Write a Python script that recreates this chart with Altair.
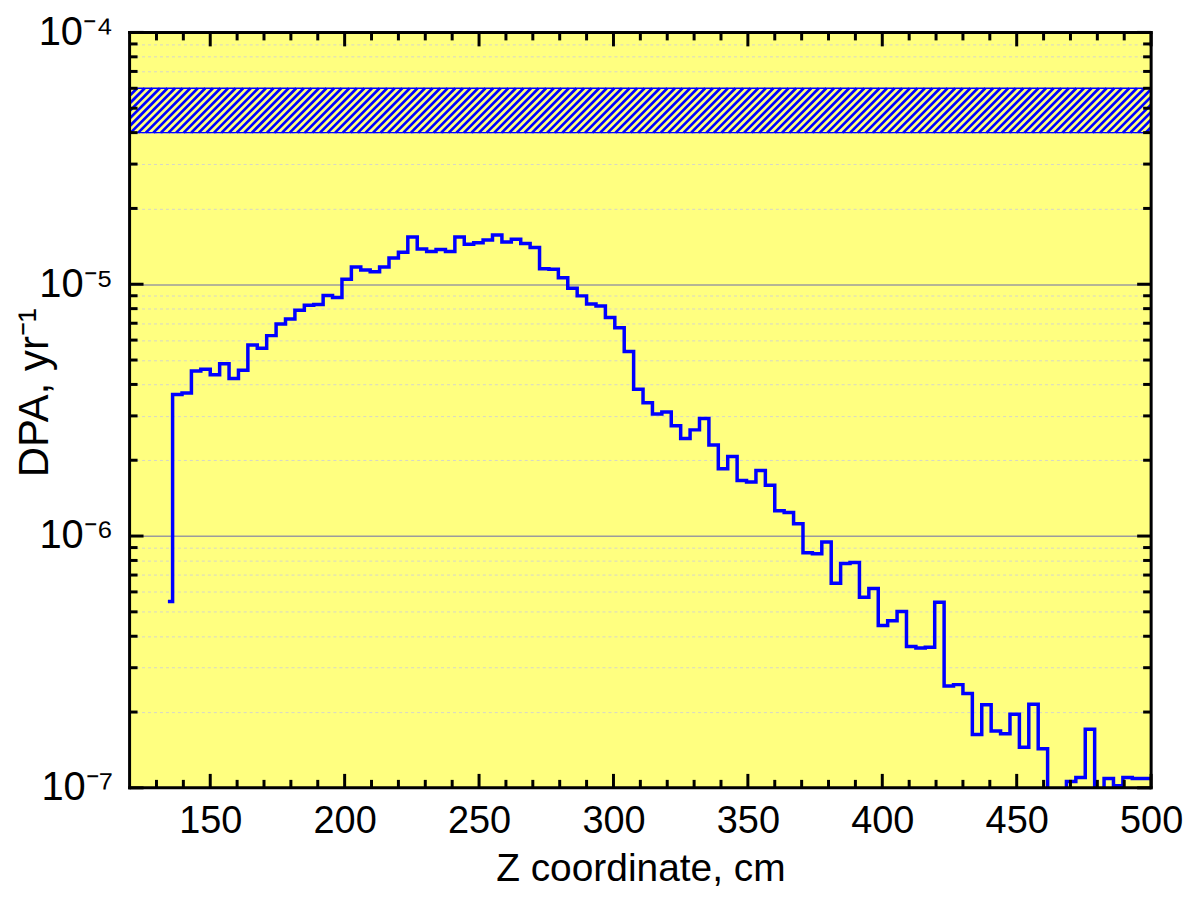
import altair as alt
import pandas as pd
import numpy as np

# ---------------- data ----------------
BIN_START = 134.25      # centre of first histogram bin, cm
BIN_WIDTH = 3.5         # cm
DPA = [
    5.5e-7, 3.65e-6, 3.7e-6, 4.52e-6, 4.6e-6, 4.37e-6, 4.83e-6, 4.22e-6, 4.55e-6, 5.74e-6,
    5.57e-6, 6.25e-6, 6.95e-6, 7.28e-6, 7.89e-6, 8.26e-6, 8.31e-6, 9.02e-6, 8.85e-6, 1.046e-5,
    1.17e-5, 1.14e-5, 1.12e-5, 1.17e-5, 1.27e-5, 1.34e-5, 1.54e-5, 1.38e-5, 1.35e-5, 1.375e-5,
    1.35e-5, 1.54e-5, 1.44e-5, 1.46e-5, 1.50e-5, 1.57e-5, 1.47e-5, 1.51e-5, 1.45e-5, 1.40e-5,
    1.153e-5, 1.146e-5, 1.06e-5, 9.64e-6, 8.99e-6, 8.34e-6, 8.19e-6, 7.38e-6, 6.72e-6, 5.41e-6,
    3.83e-6, 3.38e-6, 3.05e-6, 3.11e-6, 2.74e-6, 2.44e-6, 2.64e-6, 2.93e-6, 2.30e-6, 1.85e-6,
    2.07e-6, 1.66e-6, 1.64e-6, 1.82e-6, 1.59e-6, 1.26e-6, 1.24e-6, 1.12e-6, 8.59e-7, 8.51e-7,
    9.46e-7, 6.5e-7, 7.78e-7, 7.85e-7, 5.71e-7, 6.19e-7, 4.41e-7, 4.61e-7, 5.02e-7, 3.64e-7,
    3.59e-7, 3.62e-7, 5.46e-7, 2.54e-7, 2.57e-7, 2.37e-7, 1.63e-7, 2.14e-7, 1.68e-7, 1.64e-7,
    1.96e-7, 1.45e-7, 2.15e-7, 1.43e-7, 5e-8, 5e-8, 1.06e-7, 1.10e-7, 1.71e-7, 5e-8,
    1.09e-7, 1.02e-7, 1.10e-7, 1.09e-7, 1.09e-7, 1.09e-7,
]
Z = [BIN_START + BIN_WIDTH * i for i in range(len(DPA))]

BAND = [4e-5, 6e-5]           # hatched limit band
X_DOMAIN = [120, 500]
Y_DOMAIN = [1e-7, 1e-4]
X_MAJOR = [150, 200, 250, 300, 350, 400, 450, 500]
X_MINOR = [v for v in range(130, 500, 10) if v % 50 != 0]
Y_MAJOR = [1e-7, 1e-6, 1e-5, 1e-4]
Y_MINOR = [m * 10.0 ** e for e in (-7, -6, -5) for m in range(2, 10)]
X_TITLE = "Z coordinate, cm"
Y_TITLE = "DPA, yr\u207b\u00b9"

# ---------------- layout ----------------
W, H = 1025, 758
MAJ, MIN = 14, 8          # inward tick lengths, px
TW = 3.0                  # tick / frame thickness, px
FONT = "Liberation Sans"
BLUE = "#0000FF"
YELLOW = "#FFFF80"

line_df = pd.DataFrame({"z": Z, "dpa": DPA})
band_df = pd.DataFrame({"lo": [BAND[0]], "hi": [BAND[1]]})

px_per_unit = W / (X_DOMAIN[1] - X_DOMAIN[0])
px_per_decade = H / (np.log10(Y_DOMAIN[1]) - np.log10(Y_DOMAIN[0]))
x0, x1 = X_DOMAIN
y0, y1 = Y_DOMAIN


def ymove(v, px):          # move a log-scale value by px pixels (up = positive)
    return float(v * 10 ** (px / px_per_decade))


def xmove(v, px):
    return float(v + px / px_per_unit)


# hatch lines (45 degrees in screen space) across the band
band_px = px_per_decade * (np.log10(BAND[1]) - np.log10(BAND[0]))
dx = band_px / px_per_unit
step = 7.6 / px_per_unit
starts = np.arange(x0 - dx - step, x1 + step, step)
hatch_df = pd.DataFrame({"z": starts, "z2": starts + dx, "dpa": BAND[0], "dpa2": BAND[1]})

# inward ticks and frame as thin rectangles
rects = []
for vals, size in ((X_MAJOR, MAJ), (X_MINOR, MIN)):
    for v in vals:
        rects.append((xmove(v, -TW / 2), xmove(v, TW / 2), float(y0), ymove(y0, size)))
        rects.append((xmove(v, -TW / 2), xmove(v, TW / 2), ymove(y1, -size), float(y1)))
for vals, size in ((Y_MAJOR, MAJ), (Y_MINOR, MIN)):
    for v in vals:
        rects.append((float(x0), xmove(x0, size), ymove(v, -TW / 2), ymove(v, TW / 2)))
        rects.append((xmove(x1, -size), float(x1), ymove(v, -TW / 2), ymove(v, TW / 2)))
rects += [
    (xmove(x0, -TW / 2), xmove(x1, TW / 2), ymove(y0, -TW / 2), ymove(y0, TW / 2)),
    (xmove(x0, -TW / 2), xmove(x1, TW / 2), ymove(y1, -TW / 2), ymove(y1, TW / 2)),
    (xmove(x0, -TW / 2), xmove(x0, TW / 2), ymove(y0, -TW / 2), ymove(y1, TW / 2)),
    (xmove(x1, -TW / 2), xmove(x1, TW / 2), ymove(y0, -TW / 2), ymove(y1, TW / 2)),
]
rect_df = pd.DataFrame(rects, columns=["z", "z2", "dpa", "dpa2"])

xs = alt.Scale(domain=X_DOMAIN, nice=False, zero=False)
ys = alt.Scale(type="log", domain=Y_DOMAIN, nice=False)

DEC_TEST = "abs(log(datum.value)/LN10 - round(log(datum.value)/LN10)) < 0.01"
SUP = "['\u2070','\u00b9','\u00b2','\u00b3','\u2074','\u2075','\u2076','\u2077','\u2078','\u2079']"

x_label_axis = alt.Axis(
    orient="bottom", values=X_MAJOR, ticks=False, tickSize=0, domain=False, grid=False,
    labelFontSize=38, labelPadding=15, labelFlush=False, labelOverlap=False,
    labelFont=FONT, labelColor="black",
    title=X_TITLE, titleFont=FONT, titleFontSize=39, titleFontWeight="normal",
    titleColor="black", titleY=93, titleBaseline="alphabetic", zindex=0,
)
y_label_axis = alt.Axis(
    orient="left", values=Y_MAJOR + Y_MINOR, ticks=False, tickSize=0, domain=False,
    grid=True,
    gridColor={"condition": {"test": DEC_TEST, "value": "#9c9c9c"}, "value": "#d6d6c8"},
    gridDash={"condition": {"test": DEC_TEST, "value": []}, "value": [3, 3]},
    gridWidth={"condition": {"test": DEC_TEST, "value": 1.5}, "value": 1},
    labelExpr=f"{DEC_TEST} ? '10\u207b' + {SUP}[-round(log(datum.value)/LN10)] : ''",
    labelFontSize=40, labelPadding=17, labelOverlap=False, labelFont=FONT,
    labelColor="black", labelBaseline="middle",
    title=Y_TITLE, titleFont=FONT, titleFontSize=42, titleFontWeight="normal",
    titleColor="black", titleX=-82, titleY=361, titleBaseline="alphabetic",
    titleAlign="center", zindex=0,
)

X_ENC = alt.X("z:Q", scale=xs, axis=x_label_axis, title=X_TITLE)
Y_ENC = alt.Y("dpa:Q", scale=ys, axis=y_label_axis, title=Y_TITLE)

band_fill = alt.Chart(band_df).mark_rect(fill=YELLOW, strokeWidth=0).encode(
    y=alt.Y("lo:Q", scale=ys, axis=y_label_axis, title=Y_TITLE), y2="hi:Q"
)

hatch = alt.Chart(hatch_df).mark_rule(color=BLUE, strokeWidth=2.7, clip=True).encode(
    x=X_ENC, x2="z2:Q", y=Y_ENC, y2="dpa2:Q",
)

band_edge = alt.Chart(band_df).mark_rect(filled=False, stroke=BLUE, strokeWidth=1.5).encode(
    y=alt.Y("lo:Q", scale=ys, axis=y_label_axis, title=Y_TITLE), y2="hi:Q"
)

line = alt.Chart(line_df).mark_line(
    interpolate="step", color=BLUE, strokeWidth=3.5, clip=True
).encode(x=X_ENC, y=Y_ENC)

ticks = alt.Chart(rect_df).mark_rect(color="#000000", strokeWidth=0).encode(
    x=X_ENC, x2="z2:Q", y=Y_ENC, y2="dpa2:Q",
)

chart = (
    alt.layer(band_fill, hatch, band_edge, line, ticks)
    .properties(
        width=W, height=H,
        autosize=alt.AutoSizeParams(type="none"),
        padding={"left": 122, "top": 23, "right": 32, "bottom": 103},
        background="white",
    )
    .configure_view(fill=YELLOW, stroke="black", strokeWidth=1)
)

chart.save("out.html", embed_options={"renderer": "svg", "actions": False})
